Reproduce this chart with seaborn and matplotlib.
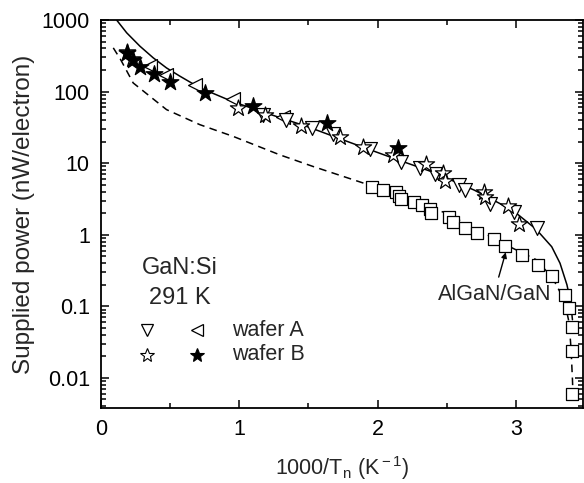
import numpy as np
import pandas as pd
import matplotlib
matplotlib.use("Agg")
import matplotlib.pyplot as plt
import seaborn as sns
from matplotlib.ticker import FixedLocator, NullFormatter, LogLocator, MultipleLocator, FuncFormatter

# Wafer A, down-pointing triangles
a_down_x = [1.172, 1.341, 1.529, 1.677, 1.949, 2.171, 2.305, 2.415, 2.592, 2.633, 2.816, 2.989, 3.157]
a_down_y = [47.7, 40.6, 30.9, 25.5, 15.7, 10.4, 8.46, 7.13, 4.92, 4.26, 2.67, 2.05, 1.26]

# Wafer A, left-pointing triangles
a_left_x = [0.354, 0.473, 0.679, 0.955, 1.316]
a_left_y = [226, 173, 125, 78.5, 44]

# Wafer B, open stars
b_open_x = [0.186, 0.222, 0.991, 1.184, 1.449, 1.728, 1.894, 2.110, 2.352, 2.477, 2.486,
            2.769, 2.780, 2.944, 3.025]
b_open_y = [352, 287, 59, 47, 33.5, 22.9, 17, 12.9, 9.6, 7.4, 5.6, 3.9, 3.4, 2.5, 1.4]

# Wafer B, filled stars
b_fill_x = [0.186, 0.233, 0.285, 0.383, 0.498, 0.751, 1.100, 1.635, 2.150]
b_fill_y = [348, 276, 224, 176, 134, 95, 62.7, 36.5, 16.3]

# AlGaN/GaN heterostructure, squares
het_x = [1.962, 2.043, 2.135, 2.159, 2.173, 2.267, 2.325, 2.381, 2.388, 2.520, 2.549, 2.633,
         2.722, 2.845, 2.924, 3.047, 3.162, 3.261, 3.357, 3.386, 3.406, 3.406, 3.406]
het_y = [4.65, 4.26, 3.91, 3.43, 3.19, 2.89, 2.57, 2.31, 2.03, 1.79, 1.49, 1.25,
         1.07, 0.865, 0.69, 0.525, 0.375, 0.267, 0.145, 0.095, 0.052, 0.024, 0.006]

# Model curves
gan_fit_x = [0.113, 0.186, 0.282, 0.378, 0.474, 0.571, 0.715, 0.955, 1.196, 1.5, 1.8, 2.1,
             2.4, 2.7, 2.977, 3.146, 3.26, 3.32, 3.37, 3.395, 3.41]
gan_fit_y = [1000, 662, 430, 296, 214, 164, 113, 72, 50, 32, 19.5, 12,
             7.5, 4.2, 2.2, 1.2, 0.68, 0.4, 0.2, 0.12, 0.065]

het_fit_x = [0.089, 0.142, 0.233, 0.474, 0.715, 0.955, 1.292, 1.533, 1.894, 2.2, 2.496,
             2.75, 2.977, 3.146, 3.266, 3.35, 3.386, 3.40, 3.41, 3.415]
het_fit_y = [408, 280, 132, 56, 34.5, 23.7, 13.1, 9.0, 5.3, 3.3, 2.0,
             1.1, 0.65, 0.45, 0.25, 0.123, 0.059, 0.025, 0.0094, 0.005]

y_ticks = [0.01, 0.1, 1, 10, 100, 1000]
y_tick_labels = ["0.01", "0.1", "1", "10", "100", "1000"]
x_ticks = [0, 1, 2, 3]

sns.set_style("ticks")
plt.rcParams["font.family"] = ["Liberation Sans", "DejaVu Sans"]
plt.rcParams["mathtext.fontset"] = "custom"
plt.rcParams["mathtext.rm"] = "Liberation Sans"
plt.rcParams["mathtext.it"] = "Liberation Sans"

fig = plt.figure(figsize=(5.84, 4.83), dpi=100)
ax = fig.add_axes([0.1729, 0.1553, 0.8251, 0.8033])

sns.lineplot(x=gan_fit_x, y=gan_fit_y, ax=ax, color="black", lw=1.1, sort=False,
             estimator=None)
sns.lineplot(x=het_fit_x, y=het_fit_y, ax=ax, color="black", lw=1.1, sort=False,
             estimator=None, dashes=False, linestyle=(0, (5, 3.5)))

mk = dict(facecolor="white", edgecolor="black", linewidth=0.9, zorder=3)
sns.scatterplot(x=het_x, y=het_y, ax=ax, marker="s", s=72, **mk)
sns.scatterplot(x=a_left_x, y=a_left_y, ax=ax, marker="<", s=100, **mk)
sns.scatterplot(x=a_down_x, y=a_down_y, ax=ax, marker="v", s=100, **mk)
sns.scatterplot(x=b_open_x, y=b_open_y, ax=ax, marker="*", s=150, **mk)
sns.scatterplot(x=b_fill_x, y=b_fill_y, ax=ax, marker="*", s=160, facecolor="black",
                edgecolor="black", linewidth=0.9, zorder=3)

ax.set_yscale("log")
ax.set_xlim(0, 3.485)
ax.set_ylim(0.0038, 1000)

ax.xaxis.set_major_locator(FixedLocator(x_ticks))
ax.xaxis.set_minor_locator(MultipleLocator(0.5))
ax.yaxis.set_major_locator(FixedLocator(y_ticks))
ax.yaxis.set_major_formatter(FuncFormatter(
    lambda v, p: y_tick_labels[y_ticks.index(v)] if v in y_ticks else ""))
ax.yaxis.set_minor_locator(LogLocator(base=10, subs=np.arange(2, 10), numticks=20))
ax.yaxis.set_minor_formatter(NullFormatter())

ax.tick_params(which="both", direction="in", top=True, right=True, labelsize=15.5,
               width=1.1, colors="black")
ax.tick_params(which="major", length=6, pad=8)
ax.tick_params(which="minor", length=3.5)
for s in ax.spines.values():
    s.set_linewidth(1.3)
    s.set_color("black")

ax.set_xlabel(r"1000/T$_{\rm n}$ (K$^{\rm -1}$)", fontsize=15.5, labelpad=10)
ax.set_ylabel("Supplied power (nW/electron)", fontsize=17.5, labelpad=5)

# Sample description and symbol key
tr = ax.transAxes
ax.text(0.164, 0.361, "GaN:Si", transform=tr, ha="center", va="center", fontsize=17)
ax.text(0.164, 0.284, "291 K", transform=tr, ha="center", va="center", fontsize=17)
ax.plot([0.095], [0.201], marker="v", ms=9, mfc="white", mec="black", mew=0.9, transform=tr)
ax.plot([0.200], [0.201], marker="<", ms=9, mfc="white", mec="black", mew=0.9, transform=tr)
ax.plot([0.095], [0.137], marker="*", ms=10, mfc="white", mec="black", mew=0.8, transform=tr)
ax.plot([0.200], [0.137], marker="*", ms=10, mfc="black", mec="black", mew=0.8, transform=tr)
ax.text(0.271, 0.201, "wafer A", transform=tr, ha="left", va="center", fontsize=15.5)
ax.text(0.271, 0.137, "wafer B", transform=tr, ha="left", va="center", fontsize=15.5)

ax.text(2.849, 0.145, "AlGaN/GaN", ha="center", va="center", fontsize=15.5)
ax.annotate("", xy=(2.933, 0.62), xytext=(2.871, 0.235),
            arrowprops=dict(arrowstyle="-|>", color="black", lw=1.0, mutation_scale=8))

fig.savefig("out.png", dpi=100)
